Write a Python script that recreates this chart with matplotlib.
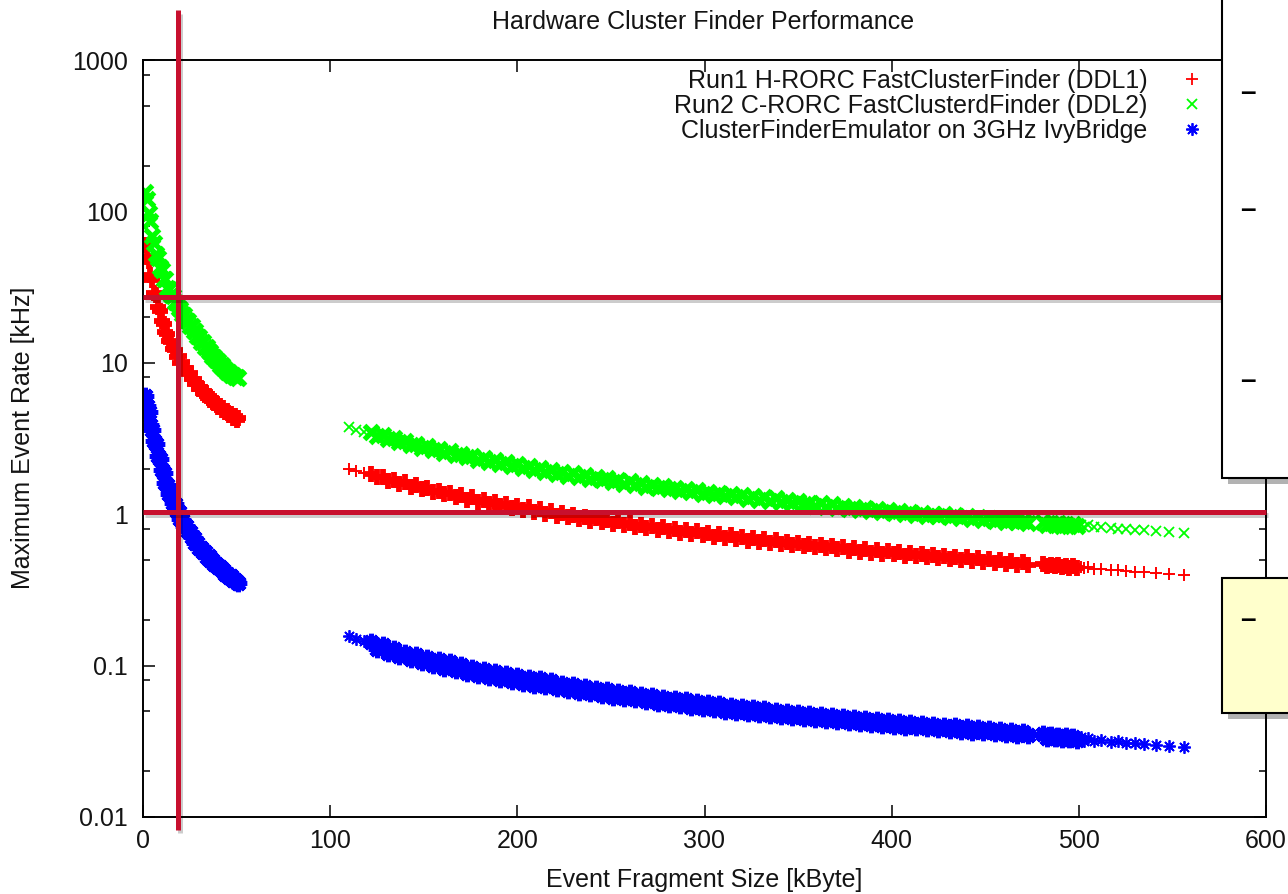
import matplotlib
matplotlib.use("Agg")
import matplotlib.pyplot as plt
from matplotlib.patches import Rectangle
from matplotlib.ticker import FixedLocator, NullFormatter, FixedFormatter
import matplotlib.patheffects as pe

# ---------------- data ----------------
title = "Hardware Cluster Finder Performance"
x_label = "Event Fragment Size [kByte]"
y_label = "Maximum Event Rate [kHz]"
series_names = ["Run1 H-RORC FastClusterFinder (DDL1)",
                "Run2 C-RORC FastClusterdFinder (DDL2)",
                "ClusterFinderEmulator on 3GHz IvyBridge"]

x_ticks = [0, 100, 200, 300, 400, 500, 600]
y_ticks = [0.01, 0.1, 1, 10, 100, 1000]
y_tick_labels = ["0.01", "0.1", "1", "10", "100", "1000"]
y_minor = [0.02, 0.05, 0.08, 0.2, 0.5, 0.8, 2, 5, 8, 20, 50, 80, 200, 500, 800]

# small fragments (kByte)
size_seg1 = [1, 2, 3, 4, 5, 6, 7, 8, 9, 10, 11, 12, 13, 14, 15, 16, 17, 18, 19, 20,
             21, 22, 23, 24, 25, 26, 27, 28, 29, 30, 31, 32, 33, 34, 35, 36, 37, 38, 39, 40,
             41, 42, 43, 44, 45, 46, 47, 48, 49, 50, 51]
ddl1_seg1 = [60, 50, 47, 38, 35, 29, 28, 23.5, 22, 19, 18, 16, 15.6, 13.9, 13.7, 12.3, 12.2, 11.0, 11.1, 10.0,
             10.1, 9.2, 9.2, 8.4, 8.5, 7.8, 7.8, 7.2, 7.25, 6.75, 6.8, 6.35, 6.4, 6.0, 6.05, 5.7, 5.75, 5.4, 5.45, 5.1,
             5.2, 4.9, 5.0, 4.7, 4.8, 4.5, 4.6, 4.35, 4.45, 4.2, 4.3]
ddl2_seg1 = [135, 120, 98, 86, 69, 62, 52, 49, 43, 41, 36, 35.5, 31, 30.5, 28, 27.5, 25.2, 25, 23, 22.6,
             21, 20.7, 19.2, 19, 17.6, 17.5, 16.2, 16.1, 15.0, 14.9, 13.8, 13.8, 12.8, 12.8, 11.9, 11.8, 11.1, 11.0, 10.4, 10.3,
             9.7, 9.7, 9.2, 9.1, 8.75, 8.7, 8.35, 8.3, 8.05, 8.1, 7.9]
emu_seg1 = [6.0, 5.2, 4.7, 3.9, 3.6, 3.05, 2.9, 2.42, 2.32, 1.95, 1.86, 1.6, 1.55, 1.36, 1.34, 1.19, 1.17, 1.05, 1.04, 0.93,
            0.92, 0.84, 0.84, 0.77, 0.76, 0.71, 0.70, 0.65, 0.645, 0.60, 0.6, 0.56, 0.56, 0.525, 0.53, 0.495, 0.5, 0.47, 0.47, 0.445,
            0.445, 0.425, 0.425, 0.405, 0.405, 0.385, 0.39, 0.37, 0.37, 0.355, 0.35]

# large fragments (kByte)
size_seg2 = [110, 114, 118,
             122, 125, 128, 131, 134, 137, 140, 143, 146, 149,
             152, 155, 158, 161, 164, 167, 170, 173, 176, 179,
             182, 185, 188, 191, 194, 197, 200, 203, 206, 209,
             212, 215, 218, 221, 224, 227, 230, 233, 236, 239,
             242, 245, 248, 251, 254, 257, 260, 263, 266, 269,
             272, 275, 278, 281, 284, 287, 290, 293, 296, 299,
             302, 305, 308, 311, 314, 317, 320, 323, 326, 329,
             332, 335, 338, 341, 344, 347, 350, 353, 356, 359,
             362, 365, 368, 371, 374, 377, 380, 383, 386, 389,
             392, 395, 398, 401, 404, 407, 410, 413, 416, 419,
             422, 425, 428, 431, 434, 437, 440, 443, 446, 449,
             452, 455, 458, 461, 464, 467, 470, 473,
             481, 483, 485, 487, 489, 491, 493, 495, 497, 499,
             501, 503, 505, 508, 512, 517, 521, 525, 530, 535,
             541, 548, 556]
ddl1_seg2 = [2.0, 1.92, 1.88,
             1.85, 1.75, 1.76, 1.66, 1.69, 1.58, 1.62, 1.52, 1.55, 1.46,
             1.49, 1.40, 1.43, 1.35, 1.38, 1.30, 1.34, 1.25, 1.29, 1.21,
             1.25, 1.17, 1.21, 1.13, 1.17, 1.10, 1.14, 1.06, 1.11, 1.04,
             1.08, 1.01, 1.05, 0.98, 1.02, 0.955, 0.99, 0.93, 0.965, 0.905,
             0.94, 0.885, 0.92, 0.86, 0.895, 0.845, 0.875, 0.825, 0.855, 0.805,
             0.835, 0.79, 0.82, 0.77, 0.80, 0.755, 0.785, 0.74, 0.77, 0.725,
             0.755, 0.71, 0.74, 0.695, 0.725, 0.685, 0.71, 0.67, 0.70, 0.66,
             0.685, 0.648, 0.673, 0.636, 0.66, 0.625, 0.65, 0.615, 0.64, 0.604,
             0.628, 0.594, 0.618, 0.585, 0.609, 0.575, 0.60, 0.567, 0.59, 0.558,
             0.58, 0.549, 0.572, 0.542, 0.564, 0.533, 0.555, 0.526, 0.548, 0.518,
             0.54, 0.51, 0.532, 0.504, 0.525, 0.497, 0.518, 0.49, 0.511, 0.483,
             0.503, 0.477, 0.497, 0.471, 0.49, 0.465, 0.484, 0.462,
             0.468, 0.455, 0.463, 0.452, 0.46, 0.448, 0.456, 0.444, 0.452, 0.441,
             0.448, 0.438, 0.445, 0.434, 0.436, 0.43, 0.426, 0.423, 0.418, 0.414,
             0.408, 0.402, 0.394]
ddl2_seg2 = [3.78, 3.62, 3.5,
             3.5, 3.27, 3.33, 3.12, 3.18, 2.98, 3.05, 2.86, 2.92, 2.75,
             2.81, 2.64, 2.71, 2.54, 2.61, 2.45, 2.51, 2.37, 2.43, 2.29,
             2.35, 2.21, 2.27, 2.14, 2.2, 2.07, 2.13, 2.01, 2.07, 1.96,
             2.01, 1.9, 1.96, 1.85, 1.91, 1.8, 1.86, 1.75, 1.81, 1.71,
             1.77, 1.67, 1.73, 1.63, 1.69, 1.59, 1.65, 1.56, 1.6, 1.52,
             1.57, 1.49, 1.53, 1.46, 1.5, 1.43, 1.47, 1.4, 1.44, 1.37,
             1.41, 1.34, 1.39, 1.31, 1.36, 1.29, 1.34, 1.26, 1.31, 1.24,
             1.29, 1.22, 1.27, 1.2, 1.25, 1.18, 1.22, 1.16, 1.19, 1.14,
             1.18, 1.12, 1.16, 1.1, 1.14, 1.09, 1.12, 1.07, 1.1, 1.055,
             1.09, 1.04, 1.07, 1.025, 1.055, 1.01, 1.04, 0.995, 1.025, 0.98,
             1.01, 0.966, 0.997, 0.953, 0.983, 0.94, 0.97, 0.928, 0.955, 0.916,
             0.943, 0.905, 0.931, 0.893, 0.918, 0.882, 0.906, 0.872,
             0.885, 0.855, 0.878, 0.848, 0.872, 0.842, 0.865, 0.835, 0.858, 0.83,
             0.85, 0.823, 0.843, 0.818, 0.82, 0.81, 0.8, 0.797, 0.788, 0.782,
             0.772, 0.763, 0.752]
emu_seg2 = [0.158, 0.15, 0.146,
            0.143, 0.128, 0.136, 0.121, 0.129, 0.115, 0.122, 0.11, 0.117, 0.105,
            0.113, 0.101, 0.109, 0.097, 0.105, 0.094, 0.101, 0.09, 0.097, 0.087,
            0.094, 0.084, 0.091, 0.082, 0.088, 0.079, 0.086, 0.077, 0.083, 0.075,
            0.081, 0.073, 0.079, 0.071, 0.076, 0.069, 0.074, 0.067, 0.072, 0.066,
            0.07, 0.064, 0.069, 0.062, 0.067, 0.061, 0.066, 0.06, 0.064, 0.058,
            0.063, 0.057, 0.061, 0.056, 0.06, 0.055, 0.059, 0.0535, 0.0575, 0.0525,
            0.0565, 0.0515, 0.0555, 0.0505, 0.0545, 0.0495, 0.0535, 0.0487, 0.0525, 0.0478,
            0.0515, 0.047, 0.0505, 0.0463, 0.0497, 0.0455, 0.0489, 0.0449, 0.0481, 0.0442,
            0.0472, 0.0436, 0.0465, 0.043, 0.0458, 0.0424, 0.0451, 0.0418, 0.0444, 0.0412,
            0.0437, 0.0407, 0.0431, 0.0401, 0.0425, 0.0396, 0.0419, 0.0391, 0.0413, 0.0386,
            0.0408, 0.0381, 0.0402, 0.0376, 0.0397, 0.0371, 0.0392, 0.0367, 0.0387, 0.0362,
            0.0382, 0.0358, 0.0377, 0.0354, 0.0372, 0.035, 0.0367, 0.0346,
            0.0352, 0.0335, 0.0348, 0.0332, 0.0345, 0.0329, 0.0342, 0.0326, 0.0339, 0.0323,
            0.0336, 0.032, 0.0333, 0.0318, 0.0324, 0.0315, 0.0316, 0.031, 0.0308, 0.0303,
            0.0299, 0.0294, 0.0289]

# slide annotation lines (data units)
marker_size_kb = 18.7
marker_rates_khz = [27.2, 1.035]

# ---------------- style ----------------
FONT = ["Liberation Sans", "DejaVu Sans"]
plt.rcParams["font.family"] = FONT
TXT = "#141414"
FS = 18
RED, GREEN, BLUE = "#ff0000", "#00ff00", "#0000ff"
MARK_RED = "#c8102e"

W, H = 1288, 894
fig = plt.figure(figsize=(W / 100, H / 100), dpi=100)
fig.patch.set_facecolor("white")
L, R, T, B = 143, 1266, 60, 817
ax = fig.add_axes([L / W, 1 - B / H, (R - L) / W, (B - T) / H])

# thin glyphs for every point, heavy glyphs where the measurements pile up densely
styles = [
    dict(marker="+", color=RED, ms=9.0, mew=1.4, ms_dense=11.0, mew_dense=4.2),
    dict(marker="x", color=GREEN, ms=7.5, mew=1.3, ms_dense=10.5, mew_dense=3.8),
    dict(marker=(8, 2, 0), color=BLUE, ms=9.0, mew=1.3, ms_dense=12.5, mew_dense=3.6),
]
seg1 = [ddl1_seg1, ddl2_seg1, emu_seg1]
seg2 = [ddl1_seg2, ddl2_seg2, emu_seg2]
handles = []
for z, (name, st, y1, y2) in enumerate(zip(series_names, styles, seg1, seg2)):
    xs = size_seg1 + size_seg2
    ys = y1 + y2
    ax.plot(xs, ys, linestyle="none", marker=st["marker"], color=st["color"],
            ms=st["ms"], mew=st["mew"], zorder=2 + z)
    dense = [(x, y) for x, y in zip(xs, ys)
             if x <= 51 or 120 <= x <= 475 or 480 <= x <= 500]
    ax.plot([d[0] for d in dense], [d[1] for d in dense], linestyle="none",
            marker=st["marker"], color=st["color"], ms=st["ms_dense"],
            mew=st["mew_dense"], zorder=2 + z)
    h, = ax.plot([], [], linestyle="none", marker=st["marker"], color=st["color"],
                 ms=st["ms"], mew=1.3, label=name)
    handles.append(h)

ax.set_yscale("log")
ax.set_xlim(0, 600)
ax.set_ylim(0.01, 1000)
ax.xaxis.set_major_locator(FixedLocator(x_ticks))
ax.yaxis.set_major_locator(FixedLocator(y_ticks))
ax.yaxis.set_major_formatter(FixedFormatter(y_tick_labels))
ax.yaxis.set_minor_locator(FixedLocator(y_minor))
ax.yaxis.set_minor_formatter(NullFormatter())
ax.tick_params(which="both", direction="in", top=True, right=True, colors="black",
               labelcolor=TXT, labelsize=FS)
ax.tick_params(which="major", length=8.6, width=1.1)
ax.tick_params(which="minor", length=5.0, width=1.1)
ax.tick_params(axis="y", pad=11)
ax.tick_params(axis="x", pad=9)
for sp in ax.spines.values():
    sp.set_linewidth(1.4)
    sp.set_color("black")
    sp.set_zorder(8)

fig.text(703 / W, 1 - 22 / H, title, ha="center", va="center", fontsize=FS, color=TXT)
fig.text(704 / W, 1 - 880 / H, x_label, ha="center", va="center", fontsize=FS, color=TXT)
fig.text(23 / W, 1 - 438 / H, y_label, ha="center", va="center", rotation=90,
         fontsize=FS, color=TXT)

leg = ax.legend(handles=handles, loc="upper right", bbox_to_anchor=(1210 / W, 1 - 69 / H),
                bbox_transform=fig.transFigure, frameon=False, markerfirst=False,
                alignment="right", fontsize=FS, handlelength=1.45, handletextpad=1.05,
                labelspacing=0.04, borderpad=0, borderaxespad=0)
for t in leg.get_texts():
    t.set_color(TXT)

# red annotation lines with soft shadow
shadow = [pe.SimpleLineShadow(offset=(1.5, -2.5), shadow_color="black", alpha=0.2),
          pe.Normal()]
ax.axvline(marker_size_kb, ymin=-0.017, ymax=1.066, color=MARK_RED, lw=3.6,
           clip_on=False, zorder=9, path_effects=shadow, solid_capstyle="butt")
for r in marker_rates_khz:
    ax.axhline(r, xmin=0, xmax=1.0, color=MARK_RED, lw=3.6, clip_on=False, zorder=9,
               path_effects=shadow, solid_capstyle="butt")

# slide call-out boxes on the right
box_shadow = [pe.withSimplePatchShadow(offset=(4, -4), shadow_rgbFace="black", alpha=0.3)]
white_box = Rectangle((1222 / W, 1 - 478 / H), 0.2, 0.6, transform=fig.transFigure,
                      facecolor="white", edgecolor="black", lw=1.5, zorder=10,
                      path_effects=box_shadow)
yellow_box = Rectangle((1222 / W, 1 - 713 / H), 0.2, (713 - 578) / H,
                       transform=fig.transFigure, facecolor="#ffffcc", edgecolor="black",
                       lw=1.5, zorder=10, path_effects=box_shadow)
fig.add_artist(white_box)
fig.add_artist(yellow_box)
for yy in [93, 210, 381, 620]:
    fig.text(1248 / W, 1 - yy / H, "\u2013", ha="center", va="center", fontsize=20,
             fontweight="bold", color="black", zorder=11)

fig.savefig("out.png", dpi=100, facecolor="white")
